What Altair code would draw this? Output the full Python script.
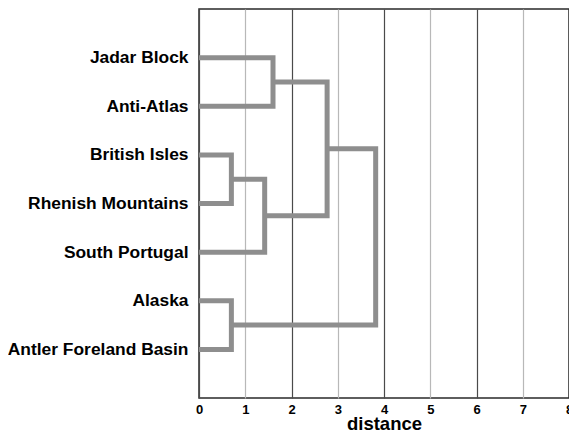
import json
import altair as alt
import pandas as pd

# Leaves, top to bottom
leaves = ["Jadar Block", "Anti-Atlas", "British Isles", "Rhenish Mountains",
          "South Portugal", "Alaska", "Antler Foreland Basin"]
# Merge steps (children by name, merge distance)
merge_names = ["C1", "C2", "C3", "C4", "C5", "C6"]
merge_left = ["British Isles", "Alaska", "C1", "Jadar Block", "C4", "C5"]
merge_right = ["Rhenish Mountains", "Antler Foreland Basin", "South Portugal",
               "Anti-Atlas", "C3", "C2"]
merge_height = [0.70, 0.70, 1.42, 1.60, 2.77, 3.82]
x_ticks = [0, 1, 2, 3, 4, 5, 6, 7, 8]

# Build node positions (leaf slot index 1..n, cluster at midpoint of children)
pos = {name: (0.0, i + 1) for i, name in enumerate(leaves)}
rows = []
for name, l, r, h in zip(merge_names, merge_left, merge_right, merge_height):
    lx, ly = pos[l]
    rx, ry = pos[r]
    pts = [(lx, ly), (h, ly), (h, ry), (rx, ry)]
    for k, (px, py) in enumerate(pts):
        rows.append({"merge": name, "order": k, "d": px, "slot": py})
    pos[name] = (h, (ly + ry) / 2)
df = pd.DataFrame(rows)

label_expr = json.dumps(leaves) + "[datum.value - 1]"
FONT = "Liberation Sans"

x_scale = alt.Scale(domain=[0, 8], nice=False, zero=False)
y_scale = alt.Scale(domain=[0, 8], reverse=True, nice=False)

lines = alt.Chart(df).mark_line(
    color="#8e8e8e", strokeWidth=5, strokeJoin="miter", strokeCap="butt", clip=True
).encode(
    x=alt.X("d:Q", scale=x_scale, title="distance",
            axis=alt.Axis(values=x_ticks, tickSize=0, domain=False, labelFlush=False,
                          labelOverlap=False, labelBound=False,
                          grid=True,
                          gridColor=alt.condition("datum.value % 2 == 0",
                                                  alt.value("#4a4a4a"),
                                                  alt.value("#b8b8b8")),
                          gridWidth=1.2,
                          labelFont=FONT, labelFontSize=13, labelFontWeight="bold",
                          labelColor="black", labelPadding=5,
                          titleFont=FONT, titleFontSize=18.5, titleFontWeight="bold",
                          titleColor="black", titleBaseline="alphabetic", titleY=31)),
    y=alt.Y("slot:Q", scale=y_scale, title=None,
            axis=alt.Axis(values=list(range(1, len(leaves) + 1)), labelExpr=label_expr,
                          tickSize=0, domain=False, grid=False, labelLimit=300,
                          labelFont=FONT, labelFontSize=17.4, labelFontWeight="bold",
                          labelColor="black", labelPadding=11)),
    detail="merge:N",
    order="order:Q",
)

chart = lines.properties(
    width=370, height=389,
    autosize="none",
    padding={"left": 191, "top": 1, "right": 0, "bottom": 35},
).configure_view(stroke="#2a2a2a", strokeWidth=1.5)

chart.save("out.html", embed_options={"renderer": "svg", "actions": False})
